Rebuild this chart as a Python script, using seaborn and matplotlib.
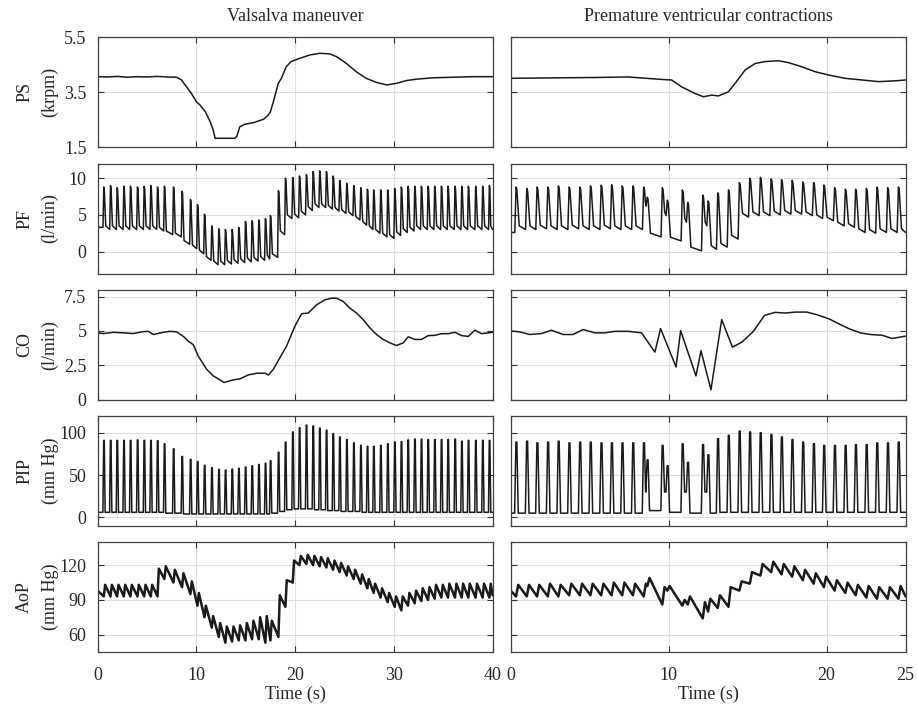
import numpy as np
import pandas as pd
import matplotlib
matplotlib.use("Agg")
import matplotlib.pyplot as plt
import seaborn as sns

# ---------------- data ----------------
# beat (systole) times, seconds
beats_val = [0.64, 1.32, 1.99, 2.67, 3.34, 4.05, 4.73, 5.40, 6.08, 6.78,
             7.70, 8.57, 9.42, 10.13, 10.84, 11.58, 12.29, 12.96, 13.64, 14.31,
             14.99, 15.66, 16.34, 17.01, 17.52, 18.33, 19.04, 19.78, 20.46, 21.16,
             21.84, 22.51, 23.19, 23.87, 24.54, 25.25, 25.96, 26.67, 27.34, 27.98,
             28.69, 29.40, 30.11, 30.78, 31.46, 32.14, 32.81, 33.49, 34.16, 34.84,
             35.51, 36.22, 36.90, 37.57, 38.31, 39.02, 39.70]
beats_pvc = [0.36, 1.04, 1.69, 2.37, 3.04, 3.72, 4.40, 5.07, 5.75, 6.41,
             7.08, 7.76, 8.44, 8.67, 9.62, 9.94, 10.89, 11.23, 12.18, 12.52,
             13.13, 13.81, 14.50, 15.16, 15.83, 16.51, 17.17, 17.84, 18.52, 19.20,
             19.85, 20.53, 21.21, 21.86, 22.54, 23.21, 23.89, 24.57]

# pump speed (krpm)
ps_val_t = [0, 1, 2, 3, 4, 5, 6, 7, 8.0, 8.5, 9.0, 9.5, 10.0, 10.36, 10.9, 11.4, 11.7,
            11.9, 12.9, 13.9, 14.1, 14.4, 14.9, 15.8, 16.8, 17.3, 17.5, 17.8, 18.3,
            18.6, 19.1, 19.6, 20.5, 21.5, 22.5, 23.5, 24.2, 25.2, 26.2, 27.2, 28.25,
            29.3, 30.3, 31.3, 32.3, 34, 36, 38, 40]
ps_val = [4.07, 4.06, 4.08, 4.05, 4.07, 4.06, 4.08, 4.06, 4.05, 3.95, 3.7, 3.46, 3.16,
          3.04, 2.8, 2.43, 2.13, 1.83, 1.83, 1.83, 1.9, 2.25, 2.34, 2.4, 2.52, 2.68,
          2.8, 3.16, 3.83, 4.0, 4.43, 4.62, 4.74, 4.86, 4.92, 4.9, 4.8, 4.55, 4.25,
          4.01, 3.86, 3.77, 3.83, 3.93, 3.98, 4.03, 4.05, 4.07, 4.07]
ps_pvc_t = [0, 3.21, 5.33, 7.44, 9.56, 10.19, 10.82, 11.67, 12.2, 12.73, 13.15, 13.78,
            14.21, 14.84, 15.48, 16.11, 16.96, 17.59, 18.44, 19.28, 20.13, 21.18,
            22.24, 23.3, 24.36, 25]
ps_pvc = [4.01, 4.03, 4.04, 4.06, 3.97, 3.95, 3.7, 3.46, 3.34, 3.4, 3.37, 3.52, 3.83,
          4.31, 4.55, 4.62, 4.65, 4.58, 4.43, 4.25, 4.13, 4.01, 3.95, 3.89, 3.92, 3.95]

# pump flow (l/min): peak and pre-beat trough per beat
pf_val_pk = [8.8, 9.0, 8.7, 8.9, 8.9, 8.8, 8.9, 9.0, 8.8, 8.9,
             8.8, 8.2, 7.1, 6.4, 5.1, 3.5, 3.1, 3.0, 3.0, 3.3,
             4.1, 4.2, 4.3, 4.5, 4.9, 8.3, 10.0, 10.1, 10.3, 10.5,
             10.9, 11.0, 10.9, 10.3, 9.7, 9.3, 9.0, 8.7, 8.5, 8.4,
             8.4, 8.4, 8.6, 8.8, 8.9, 8.9, 8.9, 8.9, 8.9, 8.9,
             8.9, 8.9, 8.9, 8.9, 8.9, 8.9, 9.0]
pf_val_tr = [3.3, 3.0, 3.0, 3.0, 3.0, 3.0, 3.0, 3.0, 3.0, 2.8,
             2.3, 2.0, 1.0, 0.4, -0.3, -1.2, -1.8, -1.8, -1.7, -1.6,
             -1.5, -1.4, -1.3, -1.2, -1.0, -0.8, 2.3, 4.5, 4.6, 5.0,
             5.6, 6.0, 6.0, 5.8, 5.5, 5.2, 4.9, 4.3, 3.6, 3.0,
             2.5, 2.0, 1.8, 2.2, 2.6, 2.8, 3.0, 3.0, 3.0, 3.0,
             3.0, 3.0, 3.0, 3.0, 3.0, 3.0, 3.0]
pf_pvc_pk = [8.8, 8.6, 8.8, 8.8, 8.95, 8.8, 8.8, 8.95, 9.05, 9.1,
             8.95, 8.95, 8.8, 7.4, 8.7, 7.0, 8.4, 6.7, 7.7, 6.9,
             8.0, 8.4, 9.4, 10.0, 10.1, 9.9, 9.8, 9.7, 9.5, 9.4,
             9.05, 8.7, 8.5, 8.5, 8.6, 8.8, 8.7, 8.8]
pf_pvc_tr = [2.6, 3.0, 3.0, 3.1, 3.0, 3.0, 3.1, 3.0, 3.0, 3.1,
             3.0, 3.0, 3.0, 6.2, 2.0, 4.9, 1.45, 4.0, 0.1, 3.5,
             0.3, 0.6, 1.7, 4.7, 4.9, 4.9, 5.0, 5.1, 5.1, 4.9,
             4.5, 4.2, 3.5, 3.3, 2.6, 2.5, 2.6, 2.6]

# cardiac output (l/min)
co_val_t = [0, 0.57, 1.59, 2.6, 3.61, 4.62, 5.13, 5.64, 6.65, 7.32, 8.0, 8.68, 9.18,
            9.69, 10.19, 11.04, 11.71, 12.39, 12.79, 13.74, 14.41, 15.26, 16.1, 16.95,
            17.3, 17.79, 18.46, 19.14, 19.98, 20.66, 21.33, 22.18, 23.02, 23.7, 24.2,
            24.88, 25.55, 26.23, 26.9, 27.58, 28.25, 28.93, 29.6, 30.28, 30.95, 31.46,
            32.14, 32.81, 33.49, 34.16, 34.84, 35.51, 36.19, 36.86, 37.54, 38.21,
            38.89, 40]
co_val = [4.86, 4.81, 4.9, 4.86, 4.81, 4.95, 4.97, 4.74, 4.9, 4.97, 4.93, 4.6, 4.25,
          4.0, 3.17, 2.21, 1.73, 1.44, 1.25, 1.44, 1.51, 1.8, 1.92, 1.92, 1.8, 2.2,
          3.05, 3.9, 5.34, 6.25, 6.3, 6.9, 7.26, 7.38, 7.38, 7.14, 6.66, 6.3, 5.82,
          5.22, 4.74, 4.38, 4.13, 3.94, 4.13, 4.57, 4.38, 4.38, 4.66, 4.68, 4.8, 4.8,
          4.9, 4.66, 4.6, 5.05, 4.8, 4.9]
co_pvc_t = [0, 0.57, 1.21, 1.95, 2.58, 3.32, 3.95, 4.59, 5.33, 5.96, 6.6, 7.44, 8.29,
            9.13, 9.49, 10.47, 10.76, 11.73, 12.05, 12.68, 13.36, 14.04, 14.63, 15.37,
            16.07, 16.74, 17.38, 18.01, 18.75, 19.39, 20.13, 20.76, 21.4, 22.13, 22.77,
            23.51, 24.14, 25]
co_pvc = [5.0, 4.93, 4.74, 4.81, 5.05, 4.74, 4.74, 5.1, 4.86, 4.86, 4.97, 4.97, 4.86,
          3.46, 5.17, 2.38, 5.02, 1.73, 3.56, 0.72, 5.82, 3.82, 4.18, 4.97, 6.13, 6.35,
          6.3, 6.37, 6.37, 6.18, 5.89, 5.53, 5.17, 4.86, 4.74, 4.69, 4.45, 4.62]

# pump inlet pressure (mm Hg): peak and pre-beat baseline per beat
pip_val_pk = [91, 91, 91, 91, 91, 91.5, 91, 91, 90.5, 87,
              81, 72, 68.5, 66, 61.5, 58.7, 56.7, 56, 57, 58,
              59.5, 61, 62.5, 64, 67, 77, 89, 101, 106, 109,
              108, 105.5, 103, 99, 95, 92, 88, 85, 84, 84,
              85, 87, 89, 89.5, 91.5, 92.5, 92.5, 92, 92, 92,
              92, 92.5, 90, 91, 91, 91, 91]
pip_val_base = [6, 6, 6, 6, 6, 6, 6, 6, 6, 6,
                5, 5, 4, 4, 4, 4, 4, 4, 4, 4,
                4, 4, 4, 4, 4, 5, 7, 9, 10, 10,
                10, 9, 9, 8, 8, 7, 7, 7, 6, 6,
                6, 6, 6, 6, 6, 6, 6, 6, 6, 6,
                6, 6, 6, 6, 6, 6, 6]
pip_pvc_pk = [89, 90, 88, 89, 90, 88, 89, 89, 88, 88,
              88, 88, 88, 68, 85, 61, 87, 65, 86, 74,
              93, 97, 102, 101, 100, 98, 95, 92, 89, 87,
              85, 85, 85, 86, 86, 88, 88, 89]
pip_pvc_base = [5, 5, 5, 5, 5, 5, 5, 5, 5, 5,
                5, 5, 5, 30, 8, 30, 6, 30, 5, 30,
                5, 6, 6, 6, 6, 6, 6, 6, 6, 6,
                6, 6, 6, 6, 6, 6, 6, 6]

# aortic pressure (mm Hg): pre-beat trough and peak per beat
aop_val_tr = [93, 93, 93, 93, 93, 93, 93, 93, 93, 108,
              105, 101, 95, 85, 75, 66, 58, 53, 54, 55,
              55, 56, 56, 53, 55, 58, 84, 105, 120, 121,
              120, 119, 118, 116, 114, 111, 108, 104, 100, 96,
              92, 88, 84, 81, 85, 87, 89, 90, 91, 92,
              92, 92, 92, 92, 92, 92, 92]
aop_val_pk = [103, 103, 103, 103, 103, 103, 103, 103, 117, 119,
              116, 113, 106, 96, 85, 76, 70, 67, 67, 68,
              70, 72, 75, 76, 72, 94, 107, 124, 128, 129,
              128, 127, 126, 124, 122, 119, 116, 112, 108, 104,
              100, 96, 93, 93, 96, 98, 100, 101, 103, 103,
              104, 104, 104, 104, 104, 104, 104]
aop_pvc_tr = [93, 93, 93, 93, 93, 94, 94, 94, 94, 94,
              94, 94, 93, 102, 86, 98, 85, 86, 74, 80,
              83, 84, 98, 104, 111, 114, 112, 110, 107, 104,
              101, 98, 96, 94, 92, 91, 91, 91]
aop_pvc_pk = [103, 103, 103, 104, 103, 104, 104, 104, 104, 105,
              105, 104, 104, 109, 101, 102, 90, 93, 88, 91,
              94, 101, 106, 114, 121, 123, 121, 119, 116, 113,
              110, 107, 105, 103, 102, 101, 101, 102]

row_labels = ["PS\n(krpm)", "PF\n(l/min)", "CO\n(l/min)", "PIP\n(mm Hg)", "AoP\n(mm Hg)"]
col_titles = ["Valsalva maneuver", "Premature ventricular contractions"]


# ---------------- build the traces ----------------
def pf_trace(beats, pk, tr, t_end):
    t, v = [0.0], [tr[0]]
    for i, b in enumerate(beats):
        nxt = beats[i + 1] if i + 1 < len(beats) else t_end
        tr_next = tr[i + 1] if i + 1 < len(beats) else tr[-1]
        gap = nxt - b
        t += [b - 0.1, b - 0.02, b + 0.03, b + min(0.18, 0.4 * gap)]
        v += [tr[i], pk[i], pk[i] - 0.3, tr_next + 0.5]
    t.append(t_end)
    v.append(tr[-1])
    return t, v


def pip_trace(beats, pk, base, t_end):
    t, v = [0.0], [base[0]]
    for i, b in enumerate(beats):
        nxt = beats[i + 1] if i + 1 < len(beats) else t_end
        # pressure falls back to the level the next beat starts from
        end = base[i + 1] if i + 1 < len(beats) else base[-1]
        t += [b - 0.11, b - 0.03, b + 0.03, b + min(0.12, 0.45 * (nxt - b))]
        v += [base[i], pk[i], pk[i], end]
    t.append(t_end)
    v.append(base[-1])
    return t, v


def aop_trace(beats, tr, pk, t_end):
    t, v = [0.0], [(tr[0] + pk[0]) / 2]
    for i, b in enumerate(beats):
        t += [b - 0.02, b + 0.12]
        v += [tr[i], pk[i]]
    t.append(t_end)
    v.append(tr[-1] + 2)
    return t, v


traces = {
    0: [(ps_val_t, ps_val), (ps_pvc_t, ps_pvc)],
    1: [pf_trace(beats_val, pf_val_pk, pf_val_tr, 40), pf_trace(beats_pvc, pf_pvc_pk, pf_pvc_tr, 25)],
    2: [(co_val_t, co_val), (co_pvc_t, co_pvc)],
    3: [pip_trace(beats_val, pip_val_pk, pip_val_base, 40), pip_trace(beats_pvc, pip_pvc_pk, pip_pvc_base, 25)],
    4: [aop_trace(beats_val, aop_val_tr, aop_val_pk, 40), aop_trace(beats_pvc, aop_pvc_tr, aop_pvc_pk, 25)],
}

ylims = [(1.5, 5.5), (-3, 12), (0, 8), (-10, 120), (45, 140)]
yticks = [[1.5, 3.5, 5.5], [0, 5, 10], [0, 2.5, 5, 7.5], [0, 50, 100], [60, 90, 120]]
yticklabels = [["1.5", "3.5", "5.5"], ["0", "5", "10"], ["0", "2.5", "5", "7.5"],
               ["0", "50", "100"], ["60", "90", "120"]]
xlims = [(0, 40), (0, 25)]
xticks = [[0, 10, 20, 30, 40], [0, 10, 20, 25]]

# ---------------- figure ----------------
sns.set_theme(style="ticks")
plt.rcParams["font.family"] = ["Liberation Serif", "DejaVu Serif"]

fig, axes = plt.subplots(5, 2, figsize=(9.17, 7.05), dpi=100,
                         gridspec_kw=dict(left=0.1065, right=0.9875, top=0.947,
                                          bottom=0.0752, hspace=0.147, wspace=0.046))

line_col = "#1a1a1a"
for r in range(5):
    for c in range(2):
        ax = axes[r, c]
        t, v = traces[r][c]
        df = pd.DataFrame({"t": t, "v": v})
        sns.lineplot(data=df, x="t", y="v", ax=ax, color=line_col,
                     lw=1.8 if r == 4 else 1.1, estimator=None, sort=False)
        ax.set_xlim(*xlims[c])
        ax.set_ylim(*ylims[r])
        ax.set_xticks(xticks[c])
        ax.set_yticks(yticks[r])
        ax.grid(True, color="#dedede", lw=0.8)
        ax.set_axisbelow(True)
        ax.tick_params(direction="in", top=True, right=True, length=4, width=0.8,
                       color="#333333", labelsize=13, labelcolor="#262626")
        ax.tick_params(axis="y", pad=8)
        ax.tick_params(axis="x", pad=11)
        for s in ax.spines.values():
            s.set_color("#404040")
            s.set_linewidth(0.9)
        ax.set_xlabel("")
        ax.set_ylabel("")
        if c == 0:
            ax.set_yticklabels(yticklabels[r])
            ax.set_ylabel(row_labels[r], fontsize=13, color="#262626", linespacing=1.6)
            ax.yaxis.set_label_coords(-0.099, 0.5)
        else:
            ax.tick_params(labelleft=False)
        if r < 4:
            ax.tick_params(labelbottom=False)
        else:
            ax.set_xticklabels([str(x) for x in xticks[c]])
            ax.set_xlabel("Time (s)", fontsize=13, color="#262626", labelpad=1)
        if r == 0:
            ax.set_title(col_titles[c], fontsize=13, color="#262626", pad=12)

fig.savefig("out.png", dpi=100)
